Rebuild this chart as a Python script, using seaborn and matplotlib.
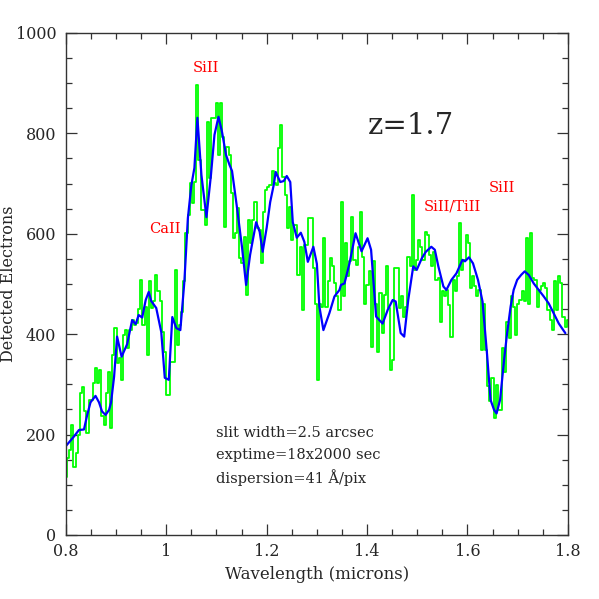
import numpy as np
import pandas as pd
import matplotlib
matplotlib.use("Agg")
import matplotlib.pyplot as plt
from matplotlib.ticker import MultipleLocator
import seaborn as sns

# smoothed spectrum (blue)
blue_wl = [0.800, 0.816, 0.826, 0.836, 0.842, 0.849, 0.859, 0.866, 0.872, 0.879,
           0.886, 0.890, 0.896, 0.902, 0.911, 0.922, 0.932, 0.939, 0.945, 0.952,
           0.959, 0.965, 0.970, 0.980, 0.990, 0.997, 1.005, 1.012, 1.020, 1.028,
           1.036, 1.043, 1.050, 1.056, 1.062, 1.070, 1.080, 1.089, 1.096, 1.104,
           1.111, 1.119, 1.126, 1.131, 1.141, 1.151, 1.159, 1.167, 1.179, 1.186,
           1.192, 1.200, 1.207, 1.214, 1.218, 1.227, 1.234, 1.240, 1.247, 1.252,
           1.260, 1.268, 1.275, 1.282, 1.293, 1.300, 1.305, 1.313, 1.325, 1.335,
           1.345, 1.348, 1.355, 1.365, 1.377, 1.389, 1.401, 1.408, 1.418, 1.431,
           1.441, 1.451, 1.457, 1.467, 1.474, 1.482, 1.492, 1.499, 1.509, 1.517,
           1.528, 1.535, 1.542, 1.552, 1.558, 1.568, 1.578, 1.590, 1.595, 1.603,
           1.611, 1.621, 1.630, 1.639, 1.646, 1.653, 1.658, 1.665, 1.673, 1.679,
           1.686, 1.692, 1.699, 1.707, 1.714, 1.722, 1.732, 1.742, 1.752, 1.762,
           1.772, 1.782, 1.795]
blue_counts = [177, 196, 209, 210, 237, 264, 277, 264, 246, 239,
               249, 264, 315, 395, 355, 380, 428, 420, 438, 433,
               468, 484, 466, 452, 404, 313, 309, 434, 412, 408,
               504, 631, 697, 731, 831, 717, 633, 717, 797, 833,
               803, 757, 737, 725, 651, 572, 498, 558, 623, 604,
               564, 612, 663, 697, 723, 703, 705, 715, 703, 623,
               592, 602, 584, 544, 574, 540, 455, 408, 442, 475,
               488, 498, 501, 541, 601, 565, 591, 568, 435, 421,
               448, 468, 465, 402, 395, 468, 535, 528, 551, 564,
               574, 568, 535, 495, 488, 508, 521, 548, 545, 553,
               541, 508, 465, 360, 269, 249, 242, 269, 349, 402,
               455, 488, 508, 518, 525, 518, 501, 488, 475, 461,
               441, 421, 402]

# raw binned spectrum (green), 0.8-1.8 micron
green_counts = [
    116, 153, 169, 219, 136, 163, 199, 282, 295, 246, 203, 269, 269, 302, 332,
    302, 329, 236, 219, 282, 325, 212, 359, 412, 342, 352, 309, 398, 408, 372,
    408, 428, 418, 422, 450, 508, 418, 455, 359,
    505, 452, 465, 518, 485, 465, 405, 365, 279, 279, 345, 345, 528, 378, 418,
    445, 505, 601, 637, 701, 661, 704, 896, 747, 647, 647, 618, 823, 711, 830,
    830, 860, 757, 860, 793, 614, 773, 757, 681,
    591, 601, 651, 551, 541, 594, 478, 627, 581, 627, 664, 611, 608, 541, 644,
    687, 694, 697, 724, 701, 697, 770, 817, 714, 677, 611, 654, 588, 618, 618,
    518, 574, 448, 578, 578, 631, 631,
    531, 461, 309, 461, 455, 591, 455, 505, 551, 535, 501, 475, 448, 664, 475,
    581, 515, 545, 634, 548, 538, 574, 644, 554, 461, 498, 525, 375, 545, 461,
    365, 481, 402, 478, 535, 452, 329, 349, 531,
    531, 452, 475, 435, 455, 554, 535, 677, 528, 548, 588, 574, 548, 604, 598,
    558, 535, 564, 508, 511, 425, 485, 475, 488, 458, 395, 508, 485, 515, 621,
    528, 548, 598, 581, 491, 515, 495, 475, 488, 369,
    461, 369, 296, 266, 312, 232, 299, 249, 249, 372, 325, 425, 392, 475, 455,
    398, 461, 468, 485, 465, 591, 461, 601, 511, 508, 455, 488, 495, 501, 491,
    448, 428, 408, 505, 448, 515, 501, 435, 415, 428,
]
green_wl = np.linspace(0.8, 1.8, len(green_counts))

line_labels = ["CaII", "SiII", "SiII/TiII", "SiII"]
line_x = [0.997, 1.079, 1.569, 1.669]
line_y = [610, 930, 655, 691]

notes = ["slit width=2.5 arcsec", "exptime=18x2000 sec", "dispersion=41 Å/pix"]

sns.set_style("ticks")
plt.rcParams["font.family"] = ["DejaVu Serif"]

fig = plt.figure(figsize=(5.99, 5.99), dpi=100)
ax = fig.add_axes([0.110, 0.107, 0.838, 0.838])

raw = pd.DataFrame({"wl": green_wl, "counts": green_counts})
smooth = pd.DataFrame({"wl": blue_wl, "counts": blue_counts})

sns.lineplot(data=raw, x="wl", y="counts", ax=ax, color="#00ff00", lw=1.3,
             drawstyle="steps-mid", estimator=None, sort=False)
sns.lineplot(data=smooth, x="wl", y="counts", ax=ax, color="#0000ff", lw=1.6,
             estimator=None, sort=False)

for lab, x, y in zip(line_labels, line_x, line_y):
    ax.text(x, y, lab, color="red", fontsize=10.5, ha="center", va="center")

ax.text(1.487, 815, "z=1.7", fontsize=21, ha="center", va="center")
for i, note in enumerate(notes):
    ax.text(1.099, 203 - i * 44, note, fontsize=10.5, ha="left", va="center")

ax.set_xlim(0.8, 1.8)
ax.set_ylim(0, 1000)
ax.xaxis.set_major_locator(MultipleLocator(0.2))
ax.xaxis.set_minor_locator(MultipleLocator(0.05))
ax.yaxis.set_major_locator(MultipleLocator(200))
ax.yaxis.set_minor_locator(MultipleLocator(50))
ax.set_xticks([0.8, 1.0, 1.2, 1.4, 1.6, 1.8])
ax.set_xticklabels(["0.8", "1", "1.2", "1.4", "1.6", "1.8"])
ax.tick_params(which="both", direction="in", top=True, right=True,
               labelsize=11.5, width=0.9, color="#333333")
ax.tick_params(which="major", length=8)
ax.tick_params(axis="x", which="major", pad=6)
ax.tick_params(axis="y", which="major", pad=7)
ax.tick_params(which="minor", length=4)
for s in ax.spines.values():
    s.set_linewidth(1.0)
    s.set_color("#333333")

ax.set_xlabel("Wavelength (microns)", fontsize=12)
ax.set_ylabel("Detected Electrons", fontsize=11.5)
ax.yaxis.set_label_coords(-0.097, 0.5)

fig.savefig("out.png", dpi=100)
